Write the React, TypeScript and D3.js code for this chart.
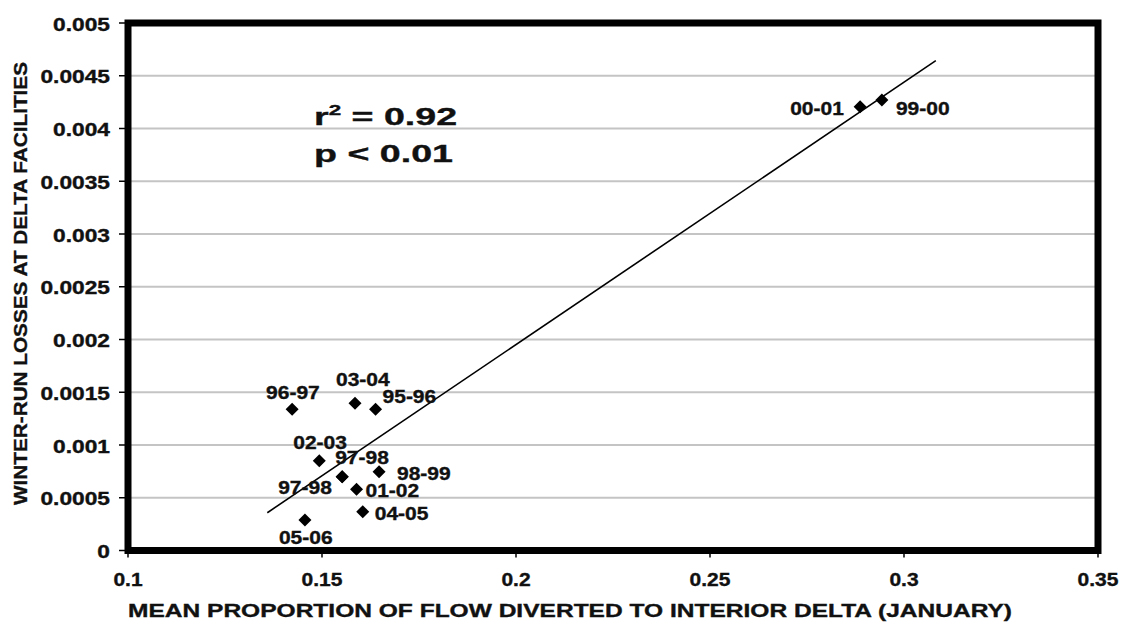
import React from "react";
import * as d3 from "d3";

const seasons = ["00-01", "99-00", "96-97", "03-04", "95-96", "02-03", "97-98", "97-98", "98-99", "01-02", "04-05", "05-06"];
const proportion = [0.2887, 0.2943, 0.1423, 0.1585, 0.1638, 0.1493, 0.1552, 0.1552, 0.1647, 0.1589, 0.1605, 0.1456];
const losses = [0.004207, 0.00427, 0.001338, 0.001395, 0.001338, 0.000851, 0.0007, 0.0007, 0.000747, 0.00058, 0.000368, 0.000289];

const trendX = [0.1359, 0.3082];
const trendY = [0.000358, 0.004643];

const xTicks = [0.1, 0.15, 0.2, 0.25, 0.3, 0.35];
const xTickLabels = ["0.1", "0.15", "0.2", "0.25", "0.3", "0.35"];
const yTicks = [0, 0.0005, 0.001, 0.0015, 0.002, 0.0025, 0.003, 0.0035, 0.004, 0.0045, 0.005];
const yTickLabels = ["0", "0.0005", "0.001", "0.0015", "0.002", "0.0025", "0.003", "0.0035", "0.004", "0.0045", "0.005"];

const xTitle = "MEAN PROPORTION OF FLOW DIVERTED TO INTERIOR DELTA (JANUARY)";
const yTitle = "WINTER-RUN LOSSES AT DELTA FACILITIES";
const statR2 = "0.92";
const statP = "0.01";

// layout (pixel offsets of labels relative to their markers)
const labelOffsets: [number, number][] = [
  [-70, 8], [14, 15], [-26, -10], [-19, -17], [7, -6], [-26, -12],
  [-7, -13], [-64, 17], [18, 8], [9, 8], [12, 8], [-26, 24],
];

const FONT = "'Liberation Sans', Arial, sans-serif";
const INK = "#111";
const HEAVY = { stroke: INK, strokeWidth: 0.35 };

export default function App() {
  const left = 128, right = 1098, top = 23, bottom = 550.5;
  const x = d3.scaleLinear().domain([0.1, 0.35]).range([left, right]);
  const y = d3.scaleLinear().domain([0, 0.005]).range([bottom, top]);
  const line = d3.line<number>().x((d) => x(trendX[d])).y((d) => y(trendY[d]));
  const r = 6.5;

  return (
    <svg width={1122} height={624} style={{ position: "absolute", left: 0, top: 0, background: "#fff" }}>
      <rect x={0} y={0} width={1122} height={624} fill="#fff" />
      {/* gridlines */}
      {yTicks.slice(1, -1).map((t, i) => (
        <line key={"g" + i} x1={left} x2={right} y1={y(t)} y2={y(t)} stroke="#c4c4c4" strokeWidth={2} />
      ))}
      {/* ticks */}
      {yTicks.map((t, i) => (
        <line key={"yt" + i} x1={left - 9} x2={left} y1={y(t)} y2={y(t)} stroke="#000" strokeWidth={1.5} />
      ))}
      {xTicks.map((t, i) => (
        <line key={"xt" + i} x1={x(t)} x2={x(t)} y1={bottom} y2={bottom + 7} stroke="#000" strokeWidth={1.5} />
      ))}
      {/* tick labels */}
      {yTicks.map((t, i) => (
        <text key={"yl" + i} transform={`translate(110,${y(t) + 7.5}) scale(1.3,1)`} textAnchor="end"
          fontFamily={FONT} fontWeight="bold" fontSize={17.5} fill={INK} {...HEAVY}>{yTickLabels[i]}</text>
      ))}
      {xTicks.map((t, i) => (
        <text key={"xl" + i} transform={`translate(${x(t)},586) scale(1.2,1)`} textAnchor="middle"
          fontFamily={FONT} fontWeight="bold" fontSize={17.5} fill={INK} {...HEAVY}>{xTickLabels[i]}</text>
      ))}
      {/* axis titles */}
      <text x={570} y={617} textAnchor="middle" textLength={884} lengthAdjust="spacingAndGlyphs"
        fontFamily={FONT} fontWeight="bold" fontSize={18} fill={INK} {...HEAVY}>{xTitle}</text>
      <text transform="translate(27,283.5) rotate(-90)" textAnchor="middle" textLength={443} lengthAdjust="spacingAndGlyphs"
        fontFamily={FONT} fontWeight="bold" fontSize={17.5} fill={INK} {...HEAVY}>{yTitle}</text>
      {/* trend line */}
      <path d={line([0, 1]) || ""} fill="none" stroke="#000" strokeWidth={1.6} />
      {/* points */}
      {seasons.map((s, i) => {
        const cx = x(proportion[i]);
        const cy = y(losses[i]);
        return (
          <path key={"p" + i} d={`M${cx},${cy - r}L${cx + r},${cy}L${cx},${cy + r}L${cx - r},${cy}Z`} fill="#000" />
        );
      })}
      {seasons.map((s, i) => {
        const cx = x(proportion[i]) + labelOffsets[i][0];
        const cy = y(losses[i]) + labelOffsets[i][1];
        return (
          <text key={"l" + i} transform={`translate(${cx},${cy}) scale(1.2,1)`}
            fontFamily={FONT} fontWeight="bold" fontSize={17.5} fill={INK} {...HEAVY}>{s}</text>
        );
      })}
      {/* stats */}
      <text transform="translate(314,125) scale(1.6,1)" fontFamily={FONT} fontWeight="bold" fontSize={23.5} fill={INK} {...HEAVY}>
        r<tspan dy={-10} fontSize={14}>2</tspan><tspan dy={10}>{" = " + statR2}</tspan>
      </text>
      <text transform="translate(314,162) scale(1.6,1)" fontFamily={FONT} fontWeight="bold" fontSize={23.5} fill={INK} {...HEAVY}>
        {"p < " + statP}
      </text>
      {/* frame */}
      <rect x={left} y={top} width={right - left} height={bottom - top} fill="none" stroke="#000" strokeWidth={7} />
    </svg>
  );
}
